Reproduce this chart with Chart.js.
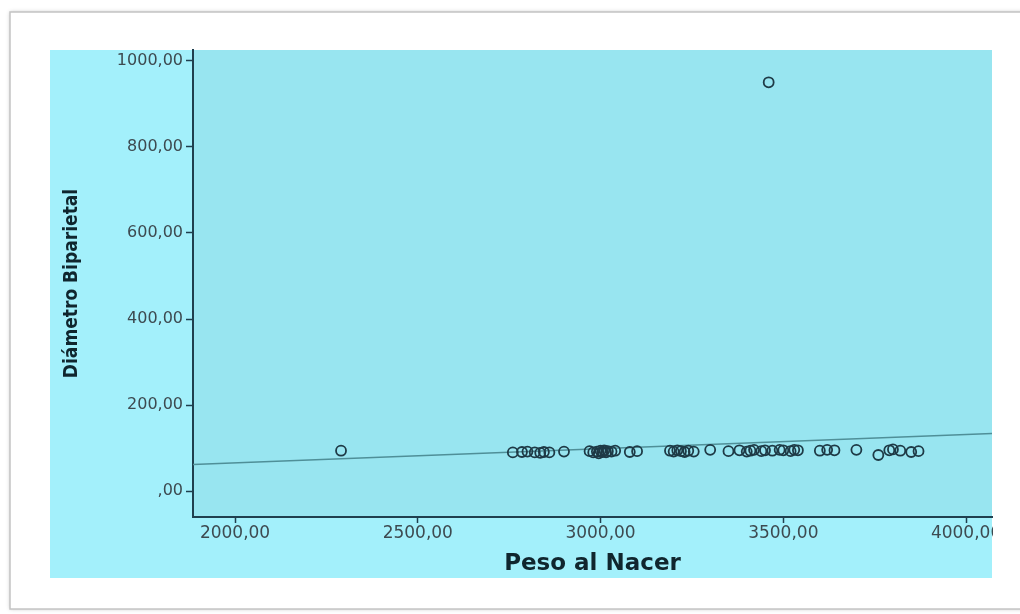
<!DOCTYPE html>
<html>
<head>
<meta charset="utf-8">
<script src="https://cdn.jsdelivr.net/npm/chart.js@4/dist/chart.umd.min.js"></script>
<style>
  html, body { margin: 0; padding: 0; background: #ffffff; }
  #myChart { display: block; }
</style>
</head>
<body>
<canvas id="myChart" width="1020" height="614"></canvas>
<script>
// Peso al Nacer (x) vs Diámetro Biparietal (y)
const pesoNacer = [2290, 2760, 2785, 2800, 2820, 2835, 2845, 2860, 2900,
  2970, 2980, 2990, 2995, 3000, 3005, 3010, 3015, 3020, 3030, 3040, 3080, 3100,
  3190, 3200, 3210, 3220, 3230, 3240, 3255, 3300, 3350, 3380, 3400, 3410, 3420,
  3440, 3450, 3460, 3470, 3490, 3500, 3520, 3530, 3540, 3600, 3620, 3640, 3700,
  3760, 3790, 3800, 3820, 3850, 3870];
const diametroBiparietal = [94, 90, 91, 92, 90, 89, 91, 90, 92,
  93, 90, 92, 88, 94, 91, 95, 90, 93, 92, 94, 91, 93,
  94, 92, 95, 93, 91, 94, 92, 96, 93, 95, 92, 94, 96,
  93, 95, 950, 94, 96, 95, 93, 96, 95, 94, 96, 95, 96,
  84, 95, 97, 94, 91, 93];

// recta de ajuste
const fitX = [1885, 4071];
const fitY = [62, 134];

const xTicks = [2000, 2500, 3000, 3500, 4000];
const yTicks = [0, 200, 400, 600, 800, 1000];

const fmt = v => v === 0 ? ',00' : v.toFixed(2).replace('.', ',');

const points = pesoNacer.map((x, i) => ({ x: x, y: diametroBiparietal[i] }));
const fitLine = fitX.map((x, i) => ({ x: x, y: fitY[i] }));

const backdrop = {
  id: 'backdrop',
  beforeDraw(chart) {
    const ctx = chart.ctx;
    const a = chart.chartArea;
    ctx.save();
    // white card
    ctx.shadowColor = 'rgba(0,0,0,0.25)';
    ctx.shadowBlur = 4;
    ctx.fillStyle = '#ffffff';
    ctx.fillRect(10, 12, 1030, 597);
    ctx.shadowBlur = 0;
    ctx.strokeStyle = '#c4c4c4';
    ctx.lineWidth = 1.5;
    ctx.strokeRect(10, 12, 1030, 597);
    // cyan panel
    ctx.fillStyle = '#a3f0fb';
    ctx.fillRect(50, 50, 942, 528);
    // plot area
    ctx.fillStyle = '#98e5f0';
    ctx.fillRect(a.left, a.top, a.right - a.left, a.bottom - a.top);
    ctx.restore();
  },
  afterDraw(chart) {
    // the panel cuts off whatever runs past its right edge
    const ctx = chart.ctx;
    ctx.save();
    ctx.fillStyle = '#ffffff';
    ctx.fillRect(993, 50, 27, 528);
    ctx.restore();
  }
};

const axisColor = '#1f3f4e';
const tickFont = { family: "'DejaVu Sans', Verdana, sans-serif", size: 16 };
const titleFamily = "'DejaVu Sans', Verdana, sans-serif";

const config = {
  type: 'scatter',
  data: {
    datasets: [
      {
        label: 'Diámetro Biparietal',
        data: points,
        pointStyle: 'circle',
        pointRadius: 5,
        pointBorderWidth: 1.8,
        pointBorderColor: '#1e3a46',
        pointBackgroundColor: 'rgba(0,0,0,0)',
        order: 1
      },
      {
        type: 'line',
        label: 'Ajuste',
        data: fitLine,
        borderColor: '#4f8f98',
        borderWidth: 1.6,
        pointRadius: 0,
        fill: false,
        order: 2
      }
    ]
  },
  options: {
    responsive: false,
    animation: false,
    layout: { padding: { left: 50, right: 28, top: 50, bottom: 36 } },
    plugins: { legend: { display: false }, tooltip: { enabled: false } },
    scales: {
      x: {
        type: 'linear',
        min: 1885,
        max: 4071,
        afterBuildTicks: s => { s.ticks = xTicks.map(v => ({ value: v })); },
        afterFit: s => { s.height = 61; },
        border: { color: axisColor, width: 2 },
        grid: { drawOnChartArea: false, color: axisColor, tickLength: 6, tickWidth: 1.5 },
        ticks: { color: '#3d4a50', font: { family: tickFont.family, size: 17 }, padding: 0, maxRotation: 0, callback: fmt },
        title: { display: true, text: 'Peso al Nacer', color: '#10262e', font: { family: titleFamily, size: 23, weight: 'bold' }, padding: { top: 0, bottom: 0 } }
      },
      y: {
        type: 'linear',
        min: -60,
        max: 1025,
        afterBuildTicks: s => { s.ticks = yTicks.map(v => ({ value: v })); },
        afterFit: s => { s.width = 143; },
        border: { color: axisColor, width: 2 },
        grid: { drawOnChartArea: false, color: axisColor, tickLength: 7, tickWidth: 1.5 },
        ticks: { color: '#3d4a50', font: tickFont, padding: 3, callback: fmt },
        title: { display: true, text: 'Diámetro Biparietal', color: '#10262e', font: { family: "'DejaVu Sans Condensed', 'Liberation Sans Narrow', sans-serif", size: 19, weight: 'bold' }, padding: { top: 11, bottom: 0 } }
      }
    }
  },
  plugins: [backdrop]
};

const chart = new Chart(document.getElementById('myChart'), config);
</script>
</body>
</html>
